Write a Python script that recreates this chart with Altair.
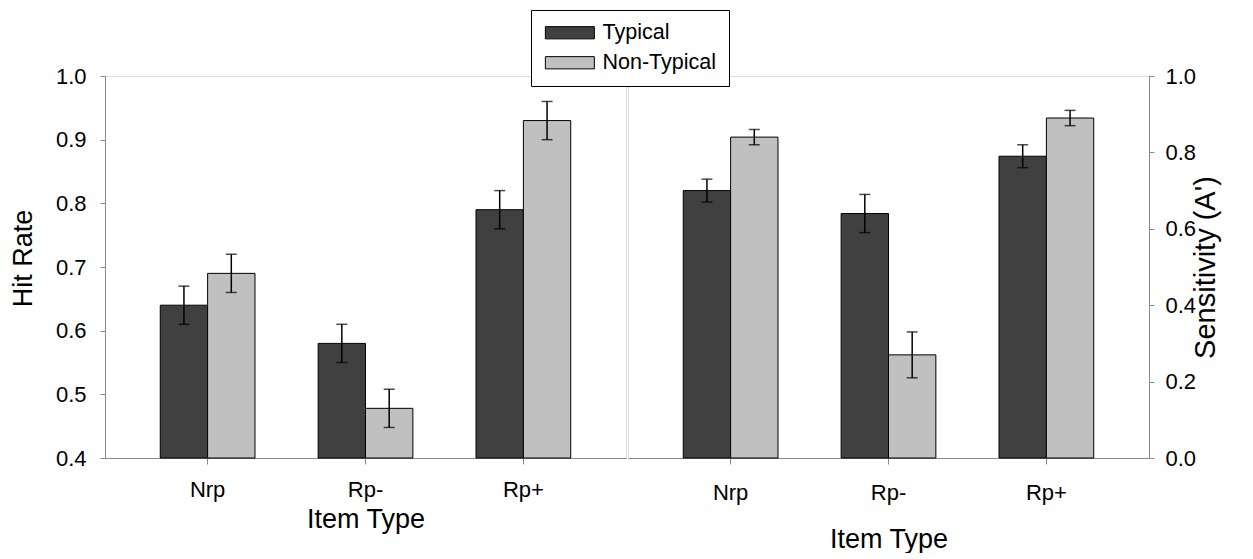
import altair as alt
import pandas as pd

items = ["Nrp", "Rp-", "Rp+"]
groups = ["Typical", "Non-Typical"]

hit_typical = [0.64, 0.58, 0.79]
hit_typical_err = [0.03, 0.03, 0.03]
hit_nontypical = [0.69, 0.478, 0.93]
hit_nontypical_err = [0.03, 0.03, 0.03]

sens_typical = [0.70, 0.64, 0.79]
sens_typical_err = [0.03, 0.05, 0.03]
sens_nontypical = [0.84, 0.27, 0.89]
sens_nontypical_err = [0.02, 0.06, 0.02]

FONT = "Liberation Sans"


def make_df(typ, typ_err, non, non_err, base):
    rows = []
    for i, it in enumerate(items):
        rows.append(dict(item=it, group="Typical", value=typ[i], lo=typ[i] - typ_err[i], hi=typ[i] + typ_err[i], base=base))
        rows.append(dict(item=it, group="Non-Typical", value=non[i], lo=non[i] - non_err[i], hi=non[i] + non_err[i], base=base))
    return pd.DataFrame(rows)


df_hit = make_df(hit_typical, hit_typical_err, hit_nontypical, hit_nontypical_err, 0.4)
df_sens = make_df(sens_typical, sens_typical_err, sens_nontypical, sens_nontypical_err, 0.0)

legend = alt.Legend(
    title=None,
    orient="none",
    legendX=426,
    legendY=-66,
    symbolType="M-1.37,-1H6.63V1H-1.37Z",
    symbolSize=150,
    symbolStrokeColor="black",
    symbolStrokeWidth=1,
    fillColor="white",
    strokeColor="black",
    padding=12,
    labelFontSize=21.5,
    labelFont=FONT,
    labelColor="black",
    labelOffset=38,
    rowPadding=7,
)


def panel(df, domain, tick_values, orient, ytitle, ytitle_pad, ytitle_size, ylabel_pad, xlabel_pad, xtitle_pad, show_legend):
    base = alt.Chart(df)
    x = alt.X(
        "item:N",
        sort=items,
        scale=alt.Scale(paddingInner=0.4, paddingOuter=0.35),
        axis=alt.Axis(
            title="Item Type",
            labelAngle=0,
            bandPosition=0.5,
            tickSize=6,
            labelPadding=xlabel_pad,
            titlePadding=xtitle_pad,
            labelFontSize=22,
            titleFontSize=27,
            titleFontWeight="normal",
        ),
    )
    xo = alt.XOffset("group:N", sort=groups, scale=alt.Scale(paddingInner=0, paddingOuter=0))
    yscale = alt.Scale(domain=domain, zero=False, nice=False)
    y = alt.Y(
        "value:Q",
        scale=yscale,
        axis=alt.Axis(
            title=ytitle,
            orient=orient,
            values=tick_values,
            format=".1f",
            tickSize=5,
            labelPadding=ylabel_pad,
            titlePadding=ytitle_pad,
            titleAngle=270,
            titleY=182 if orient == "left" else 191,
            labelFontSize=22,
            titleFontSize=ytitle_size,
            titleFontWeight="normal",
            grid=False,
        ),
    )
    color = alt.Color(
        "group:N",
        sort=groups,
        scale=alt.Scale(domain=groups, range=["#404040", "#c0c0c0"]),
        legend=legend if show_legend else None,
    )
    bars = base.mark_bar(stroke="black", strokeWidth=1).encode(x=x, xOffset=xo, y=y, y2="base:Q", color=color)
    rules = base.mark_rule(color="black", strokeWidth=1.5).encode(
        x=x, xOffset=xo, y=alt.Y("lo:Q", scale=yscale), y2="hi:Q"
    )
    cap_hi = base.mark_tick(orient="horizontal", size=11, thickness=1.5, color="black").encode(
        x=x, xOffset=xo, y=alt.Y("hi:Q", scale=yscale)
    )
    cap_lo = base.mark_tick(orient="horizontal", size=11, thickness=1.5, color="black").encode(
        x=x, xOffset=xo, y=alt.Y("lo:Q", scale=yscale)
    )
    return alt.layer(bars, rules, cap_hi, cap_lo).properties(width=521, height=382)


left = panel(df_hit, [0.4, 1.0], [0.4, 0.5, 0.6, 0.7, 0.8, 0.9, 1.0], "left", "Hit Rate", 18, 27, 14, 15, 6, True)
right = panel(df_sens, [0.0, 1.0], [0.0, 0.2, 0.4, 0.6, 0.8, 1.0], "right", "Sensitivity (A')", 25, 29, 11, 18, 23, False)

chart = (
    alt.hconcat(left, right, spacing=0)
    .resolve_scale(y="independent")
    .properties(padding={"left": 0, "top": 1, "right": 5, "bottom": 0})
    .configure_view(stroke="#222222", strokeWidth=1)
    .configure_axis(
        domainColor="#222222",
        tickColor="#222222",
        labelColor="black",
        titleColor="black",
        labelFont=FONT,
        titleFont=FONT,
        titleFontWeight="normal",
    )
    .configure(background="white")
)

chart.save("out.html", embed_options={"renderer": "svg", "actions": False})
